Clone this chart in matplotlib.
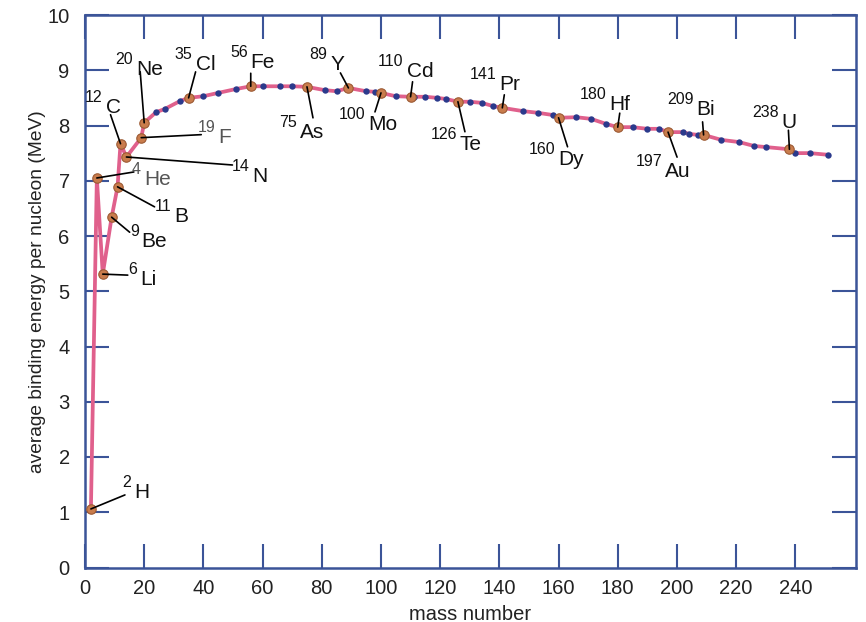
import matplotlib
matplotlib.use("Agg")
import matplotlib.pyplot as plt
import numpy as np

plt.rcParams['font.family'] = ['Liberation Sans', 'DejaVu Sans']

# ---- data ----
labeled_elements = ["H", "He", "Li", "Be", "B", "C", "N", "F", "Ne", "Cl", "Fe", "As",
                    "Y", "Mo", "Cd", "Te", "Pr", "Dy", "Hf", "Au", "Bi", "U"]
labeled_mass = [2, 4, 6, 9, 11, 12, 14, 19, 20, 35, 56, 75,
                89, 100, 110, 126, 141, 160, 180, 197, 209, 238]
labeled_energy = [1.06, 7.05, 5.31, 6.34, 6.89, 7.67, 7.43, 7.78, 8.05, 8.50, 8.71, 8.70,
                  8.68, 8.59, 8.52, 8.43, 8.32, 8.14, 7.97, 7.88, 7.83, 7.57]

other_mass = [24, 27, 32, 40, 45, 51, 60, 66, 70, 81, 85, 95, 98, 105, 111, 115, 119, 122,
              130, 134, 138, 148, 153, 158, 166, 171, 176, 185, 190, 194, 202, 204, 207,
              215, 221, 226, 230, 240, 245, 251]
other_energy = [8.24, 8.30, 8.44, 8.53, 8.59, 8.66, 8.71, 8.71, 8.71, 8.64, 8.62, 8.62, 8.61,
                8.53, 8.52, 8.52, 8.50, 8.48, 8.43, 8.41, 8.35, 8.26, 8.23, 8.19, 8.15, 8.12,
                8.03, 7.97, 7.94, 7.94, 7.88, 7.85, 7.83, 7.74, 7.70, 7.63, 7.61, 7.50, 7.50,
                7.47]

x_ticks = [0, 20, 40, 60, 80, 100, 120, 140, 160, 180, 200, 220, 240]
y_ticks = [0, 1, 2, 3, 4, 5, 6, 7, 8, 9, 10]

# ---- layout (pixel offsets from each dot: leader end, element text anchor) ----
label_layout = {
    "H":  ((34, 14), (43, 11)),
    "He": ((37, 6), (47, -7)),
    "Li": ((25, -1), (37, -11)),
    "Be": ((18, -15), (30, -30)),
    "B":  ((37, -20), (57, -35)),
    "C":  ((-10, 29), (-15, 31)),
    "N":  ((106, -8), (126, -25)),
    "F":  ((60, 3), (77, -5)),
    "Ne": ((-4, 51), (-8, 48)),
    "Cl": ((7, 26), (7, 28)),
    "Fe": ((0, 13), (0, 18)),
    "As": ((6, -31), (-7, -51)),
    "Y":  ((-8, 15), (-18, 18)),
    "Mo": ((-6, -19), (-13, -37)),
    "Cd": ((2, 15), (-4, 20)),
    "Te": ((7, -30), (2, -48)),
    "Pr": ((2, 13), (-3, 18)),
    "Dy": ((9, -29), (0, -47)),
    "Hf": ((2, 14), (-8, 17)),
    "Au": ((9, -25), (-3, -45)),
    "Bi": ((-1, 13), (-7, 20)),
    "U":  ((-1, 19), (-8, 21)),
}
grey_labels = {"He", "F"}

DPI = 100
PX2PT = 72.0 / DPI

spine_col = "#3b5498"
line_col = "#e0608c"
orange = "#c97c4c"
orange_edge = "#9c5a34"
blue = "#2b3a8c"

fig = plt.figure(figsize=(8.66, 6.22), dpi=DPI)
ax = fig.add_axes([85 / 866, (622 - 567.5) / 622, (856 - 85) / 866, (567.5 - 15) / 622])

# curve through all points in order of mass number
all_x = np.array(labeled_mass + other_mass, dtype=float)
all_y = np.array(labeled_energy + other_energy, dtype=float)
order = np.argsort(all_x, kind="stable")
ax.plot(all_x[order], all_y[order], color=line_col, lw=2.7, zorder=2,
        solid_joinstyle="round")

ax.plot(other_mass, other_energy, linestyle="none", marker="o", ms=4.6,
        color=blue, markeredgewidth=0, zorder=3)
ax.plot(labeled_mass, labeled_energy, linestyle="none", marker="o", ms=6.8,
        markerfacecolor=orange, markeredgecolor=orange_edge, markeredgewidth=0.8, zorder=4)

for el, m, e in zip(labeled_elements, labeled_mass, labeled_energy):
    (lx, ly), (tx, ty) = label_layout[el]
    # leader line
    ax.annotate("", xy=(m, e), xytext=(lx * PX2PT, ly * PX2PT), textcoords="offset points",
                arrowprops=dict(arrowstyle="-", color="black", lw=1.2,
                                shrinkA=0, shrinkB=0), zorder=5)
    col = "#555555" if el in grey_labels else "#111111"
    ax.annotate(el, xy=(m, e), xytext=(tx * PX2PT, ty * PX2PT), textcoords="offset points",
                ha="left", va="baseline", fontsize=15, color=col, zorder=6)
    ax.annotate(str(m), xy=(m, e), xytext=((tx - 3) * PX2PT, (ty + 11) * PX2PT),
                textcoords="offset points", ha="right", va="baseline",
                fontsize=11.5, color=col, zorder=6)

ax.set_xlim(0, 260.5)
ax.set_ylim(0, 10)
ax.set_xticks(x_ticks)
ax.set_yticks(y_ticks)
ax.set_xticklabels([str(t) for t in x_ticks])
ax.set_yticklabels([str(t) for t in y_ticks])

for s in ax.spines.values():
    s.set_color(spine_col)
    s.set_linewidth(1.8)

ax.tick_params(axis="both", direction="in", length=17, width=1.5, color=spine_col,
               top=True, right=True, labelsize=14.5, labelcolor="#222222")
ax.tick_params(axis="x", pad=8)
ax.tick_params(axis="y", pad=11)

ax.set_xlabel("mass number", fontsize=14.5, color="#222222", labelpad=5)
ax.set_ylabel("average binding energy per nucleon (MeV)", fontsize=13.8,
              color="#222222", labelpad=1)

fig.savefig("out.png", dpi=DPI)
